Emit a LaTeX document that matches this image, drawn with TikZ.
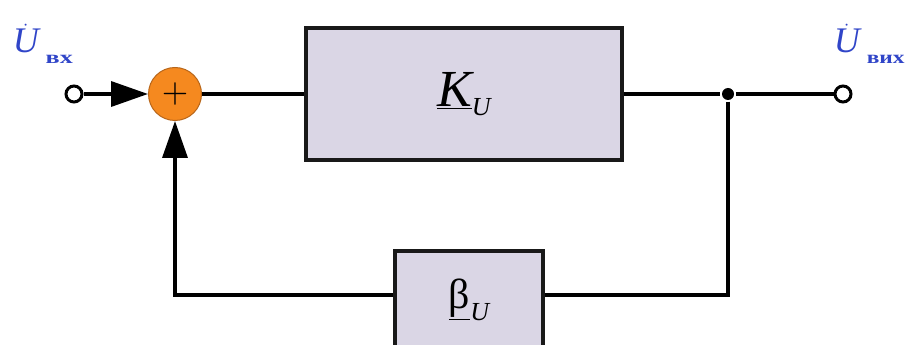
\documentclass[tikz,border=0pt]{standalone}
\usepackage{fontspec}
\usepackage{graphicx}
\setmainfont{Liberation Serif}
\usetikzlibrary{arrows.meta, positioning}
\definecolor{sumorange}{HTML}{F5891F}
\definecolor{sumedge}{HTML}{B8661A}
\definecolor{blockfill}{HTML}{DAD6E5}
\definecolor{signalblue}{HTML}{3045C8}

\begin{document}
\begin{tikzpicture}[x=1pt, y=1pt, line width=3.5pt,
  block/.style={draw=black!90, fill=blockfill, line width=3.5pt, inner sep=0pt},
  terminal/.style={circle, draw, fill=white, line width=3pt, minimum size=16pt, inner sep=0pt},
  summer/.style={circle, draw=sumedge, fill=sumorange, line width=1pt, minimum size=53pt, inner sep=0pt},
  junction/.style={circle, fill=black, minimum size=12pt, inner sep=0pt},
  feedarrow/.style={-{Triangle[length=37pt, width=25pt]}}]
\useasboundingbox (0,0) rectangle (907,345);
\begin{scope}[every node/.style={text=signalblue, anchor=base west, inner sep=0pt,
    font=\fontsize{36}{40}\selectfont}]
  \node (uin)  at (11,292)  {$\dot{\hbox{\itshape U}}$\hspace{7pt}\raisebox{-11pt}{\scalebox{1.45}[1]{\fontsize{18}{18}\selectfont\bfseries вх}}};
  \node (uout) at (832,292) {$\dot{\hbox{\itshape U}}$\hspace{7pt}\raisebox{-11pt}{\scalebox{1.3}[1]{\fontsize{18}{18}\selectfont\bfseries вих}}};
\end{scope}
\node [terminal] (vin) at (74,251) {};
\node [summer] (sum) at (175,251) {\scalebox{3.4}{$+$}};
\node [block, minimum width=316pt, minimum height=132pt] (ku) at (464,251)
  {\fontsize{52}{56}\selectfont\itshape\underline{K}\raisebox{-9pt}{\fontsize{26}{28}\selectfont U}};
\node [junction] (jn) at (728,251) {};
\node [terminal] (vout) at (843,251) {};
\node [block, minimum width=148pt, minimum height=98pt] (beta) at (469,45)
  {\fontsize{42}{46}\selectfont\underline{β}\raisebox{-12pt}{\fontsize{26}{28}\selectfont\itshape U}};
\draw [feedarrow] (vin) -- (sum);
\draw (sum) -- (ku);
\draw (ku) -- (jn) -- (vout);
\draw (jn) |- ([yshift=5pt]beta.east);
\draw [feedarrow] ([yshift=5pt]beta.west) -| (sum.south);
\end{tikzpicture}
\end{document}
